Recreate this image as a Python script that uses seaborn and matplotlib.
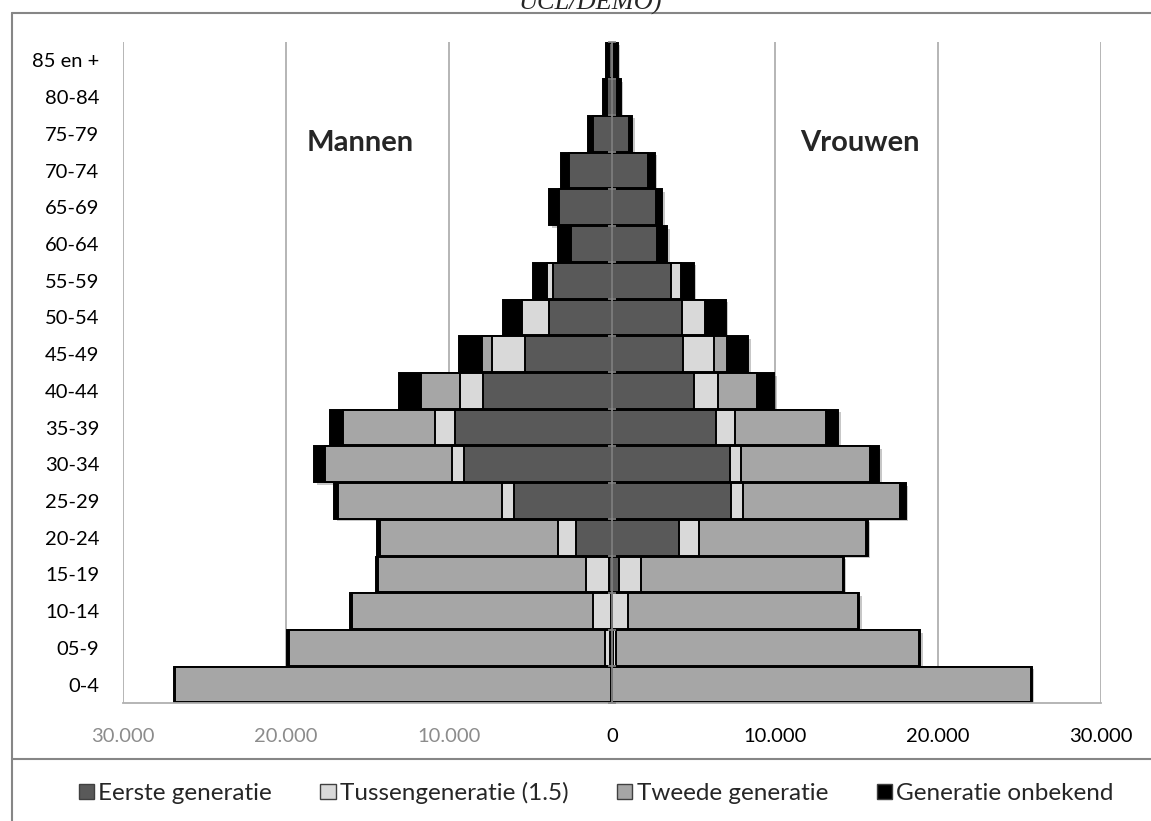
import numpy as np
import pandas as pd
import matplotlib
matplotlib.use("Agg")
import matplotlib.pyplot as plt
import matplotlib.patheffects as pe
import seaborn as sns
from matplotlib.lines import Line2D
from matplotlib.patches import Patch

# ---------------- data ----------------
ages = ["0-4", "05-9", "10-14", "15-19", "20-24", "25-29", "30-34", "35-39",
        "40-44", "45-49", "50-54", "55-59", "60-64", "65-69", "70-74",
        "75-79", "80-84", "85 en +"]

men_eerste    = [20, 100, 40, 200, 2185, 6030, 9100, 9650, 7900, 5355, 3865, 3600, 2535, 3250, 2640, 1165, 325, 185]
men_tussen    = [40, 305, 1130, 1390, 1105, 695, 715, 1185, 1450, 1980, 1675, 370, 0, 0, 0, 0, 0, 0]
men_tweede    = [26720, 19390, 14760, 12785, 10960, 10100, 7770, 5645, 2370, 655, 0, 0, 0, 0, 0, 0, 0, 0]
men_onbekend  = [80, 120, 120, 120, 165, 225, 695, 840, 1330, 1390, 1125, 900, 755, 595, 510, 305, 205, 200]

women_eerste   = [20, 80, 30, 405, 4085, 7320, 7260, 6380, 5005, 4355, 4295, 3640, 2780, 2720, 2230, 1045, 325, 100]
women_tussen   = [0, 180, 940, 1350, 1270, 695, 655, 1140, 1470, 1885, 1430, 570, 0, 0, 0, 0, 0, 0]
women_tweede   = [25700, 18590, 14150, 12390, 10225, 9630, 7915, 5580, 2435, 815, 0, 0, 0, 0, 0, 0, 0, 0]
women_onbekend = [40, 60, 60, 60, 100, 390, 570, 780, 1045, 1290, 1245, 815, 615, 350, 390, 185, 205, 250]

series_names = ["Eerste generatie", "Tussengeneratie (1.5)", "Tweede generatie", "Generatie onbekend"]
series_colors = ["#595959", "#d9d9d9", "#a6a6a6", "#000000"]

x_ticks = [-30000, -20000, -10000, 0, 10000, 20000, 30000]
x_ticklabels = ["30.000", "20.000", "10.000", "0", "10.000", "20.000", "30.000"]

# ---------------- build long table with cumulative (stacked) extents ----------------
rows = []
for sex, sign, parts in [("Mannen", -1, [men_eerste, men_tussen, men_tweede, men_onbekend]),
                         ("Vrouwen", 1, [women_eerste, women_tussen, women_tweede, women_onbekend])]:
    cum = np.cumsum(np.array(parts, dtype=float), axis=0)
    for k, name in enumerate(series_names):
        for i, age in enumerate(ages):
            rows.append(dict(age=age, sex=sex, layer=name, cum=sign * cum[k, i]))
df = pd.DataFrame(rows)

# ---------------- figure ----------------
sns.set_theme(style="white")
plt.rcParams['font.family'] = ['Lato', 'DejaVu Sans']

W, H = 1151, 821
fig = plt.figure(figsize=(W / 100, H / 100), dpi=100)
ax = fig.add_axes([123 / W, 1 - 703 / H, (1101 - 123) / W, (703 - 42) / H])

order = ages[::-1]
# draw outermost cumulative layer first, then inner ones on top
first = True
for name, color in list(zip(series_names, series_colors))[::-1]:
    for sex in ["Mannen", "Vrouwen"]:
        n_before = len(ax.patches)
        sub = df[(df.layer == name) & (df.sex == sex)]
        sns.barplot(data=sub, y="age", x="cum", order=order, orient="h",
                    color=color, saturation=1, errorbar=None, width=0.97,
                    edgecolor="black", linewidth=1.4, ax=ax, zorder=2)
        if first:
            for p in ax.patches[n_before:]:
                p.set_path_effects([pe.SimplePatchShadow(offset=(1.8, -1.8), alpha=0.22),
                                    pe.Normal()])
    first = False

# axes styling
ax.set_xlim(-30000, 30000)
ax.set_ylim(len(ages) - 0.5, -0.5)
ax.set_xlabel("")
ax.set_ylabel("")
for s in ["top", "right", "left"]:
    ax.spines[s].set_visible(False)
ax.spines["bottom"].set_color("#b0b0b0")
ax.spines["bottom"].set_linewidth(1.3)

ax.set_xticks(x_ticks)
ax.set_xticklabels(x_ticklabels)
ax.tick_params(axis="x", direction="out", length=6, width=1.2, color="#b0b0b0",
               pad=12, labelsize=14.5)
for lab, v in zip(ax.get_xticklabels(), x_ticks):
    lab.set_color("#8c8c8c" if v < 0 else "black")
ax.tick_params(axis="y", length=0, pad=17, labelsize=14.5, labelcolor="black")

for v in x_ticks:
    if v != 0:
        ax.axvline(v, color="#b0b0b0", lw=1.3, zorder=0)
# category axis at zero with small boundary ticks
ax.axvline(0, color="#868686", lw=1.3, zorder=3)
ax.plot(np.zeros(len(ages) + 1), np.arange(len(ages) + 1) - 0.5, ls="none",
        marker="_", ms=6, mew=1.2, color="#868686", zorder=3, clip_on=False)

ax.text(-15460, 2.25, "Mannen", ha="center", va="center", fontsize=21, fontweight="bold")
ax.text(15215, 2.25, "Vrouwen", ha="center", va="center", fontsize=21, fontweight="bold")

# legend
handles = [Patch(facecolor=c, edgecolor="#404040", linewidth=1.0) for c in series_colors]
fig.legend(handles, series_names, loc="center", bbox_to_anchor=(596 / W, 1 - 793 / H),
           ncol=4, frameon=False, fontsize=17.5, handlelength=0.62, handleheight=0.62,
           handletextpad=0.18, columnspacing=2.0)

# outer chart frame and legend separator
fc = "#868686"
fig.add_artist(Line2D([12 / W, 1.0], [1 - 13 / H, 1 - 13 / H], color=fc, lw=1.5))
fig.add_artist(Line2D([12 / W, 12 / W], [1 - 13 / H, 0.0], color=fc, lw=1.5))
fig.add_artist(Line2D([12 / W, 1.0], [1 - 759 / H, 1 - 759 / H], color=fc, lw=1.5))

# cut-off caption at the very top (as in the reference)
fig.text(590 / W, 1 - 9.5 / H, "UCL/DEMO)", ha="center", va="baseline",
         fontsize=19, style="italic", family=["Liberation Serif", "DejaVu Serif"])

fig.savefig("out.png", dpi=100)
